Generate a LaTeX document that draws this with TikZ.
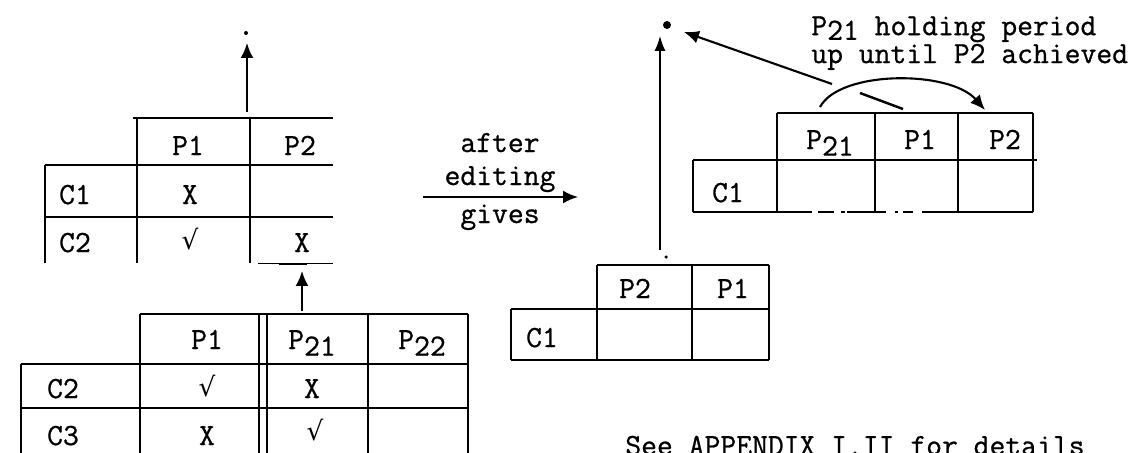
\documentclass[tikz,border=0pt]{standalone}
\usepackage{fontspec}
\usepackage{tikz}
\usetikzlibrary{arrows.meta}
\newfontfamily\typer{Latin Modern Mono}[FakeBold=0.8]
\newfontfamily\symfont{DejaVu Sans}
\newcommand{\tsub}[1]{\raisebox{-0.5ex}{#1}}
\newcommand{\tick}{{\symfont\fontsize{15}{16}\selectfont √}}

\begin{document}
\begin{tikzpicture}[x=0.02cm,y=-0.02cm,
  font=\typer\fontsize{17.5}{20}\selectfont,
  grid/.style={line width=1.6pt},
  arr/.style={-{Latex[length=3mm,width=2.6mm]},line width=1.2pt},
  thinarr/.style={-{Latex[length=3mm,width=2.2mm]},line width=0.8pt},
  cell/.style={inner sep=0pt,anchor=base},
  blob/.style={circle,fill,inner sep=0pt,minimum size=#1}
]
\useasboundingbox (0,0) rectangle (1137,453);

% schedule before editing, top left
\draw[grid] (133,118) -- (333,118);
\draw[grid] (45,165) -- (333,165);
\draw[grid] (45,217) -- (333,217);
\draw[grid] (45,165) -- (45,263);
\draw[grid] (137,118) -- (137,263);
\draw[grid] (250,118) -- (250,263);
\draw (258,263) -- (333,263);
\draw[grid] (279,264) -- (307,264);
\node[cell] (aP1) at (188,155) {P1};
\node[cell] (aP2) at (300,155) {P2};
\node[cell] (aC1) at (75,204) {C1};
\node[cell] (aX1) at (190,204) {X};
\node[cell] (aC2) at (75,252) {C2};
\node[cell] (aT2) at (190,249) {\tick};
\node[cell] (aX2) at (302,252) {X};

% split periods, bottom left
\draw[grid] (140,314) -- (468,314);
\draw[grid] (21,364) -- (468,364);
\draw[grid] (21,408) -- (468,408);
\foreach \x/\top in {21/364,140/314,259/314,267/314,368/314,468/314}
  \draw[grid] (\x,\top) -- (\x,460);
\node[cell] (bP1) at (207,349) {P1};
\node[cell] (bP21) at (312,349) {P\tsub{21}};
\node[cell] (bP22) at (422,349) {P\tsub{22}};
\node[cell] (bC2) at (63,398) {C2};
\node[cell] (bT2) at (207,396) {\tick};
\node[cell] (bX2) at (312,398) {X};
\node[cell] (bC3) at (63,445) {C3};
\node[cell] (bX3) at (207,445) {X};
\node[cell] (bT3) at (315,440) {\tick};

% up arrows between the left tables
\coordinate (aTop) at (247,112);
\coordinate (aUp) at (247,43);
\node[blob=0.08cm] (aMark) at (246,33) {};
\draw[arr] (aTop) -- (aUp);
\coordinate (bTop) at (302,311);
\coordinate (aBot) at (302,271);
\draw[arr] (bTop) -- (aBot);

% editing step
\coordinate (edFrom) at (423,197);
\coordinate (edTo) at (578,197);
\draw[arr] (edFrom) -- (edTo);
\node[cell] (after) at (500,152) {after};
\node[cell] (editing) at (500,185) {editing};
\node[cell] (gives) at (500,223) {gives};

% edited order, bottom middle
\draw[grid] (597,265) -- (769,265);
\draw[grid] (511,309) -- (769,309);
\draw[grid] (511,360) -- (769,360);
\foreach \x/\top in {511/309,597/265,692/265,769/265}
  \draw[grid] (\x,\top) -- (\x,360);
\node[cell] (dP2) at (635,298) {P2};
\node[cell] (dP1) at (733,298) {P1};
\node[cell] (dC1) at (542,347) {C1};
\node[blob=0.07cm] (dMark) at (666,257) {};

% vertical time axis
\coordinate (vFoot) at (660,250);
\coordinate (vTip) at (660,36);
\draw[thinarr] (vFoot) -- (vTip);
\node[blob=0.16cm] (vDot) at (667,25) {};

% holding period, top right
\draw[grid] (777,113) -- (1033,113);
\draw[grid] (693,160) -- (1037,160);
\foreach \x/\top in {693/160,777/113,875/113,958/113,1033/113}
  \draw[grid] (\x,\top) -- (\x,212);
\draw[grid] (693,212) -- (812,212);
\draw[grid,dash pattern=on 9pt off 4pt] (818,212) -- (845,212);
\draw[grid] (847,212) -- (886,212);
\draw[grid] (895,212) -- (898,212);
\draw[grid] (903,212) -- (913,212);
\draw[grid] (922,212) -- (1033,212);
\node[cell] (cP21) at (830,149) {P\tsub{21}};
\node[cell] (cP1) at (920,149) {P1};
\node[cell] (cP2) at (1005,149) {P2};
\node[cell] (cC1) at (728,202) {C1};

\coordinate (cFrom) at (820,107);
\coordinate (cTo) at (985,110);
\draw[arr] (cFrom) .. controls (840,70) and (950,70) .. (cTo);
\draw[line width=1.4pt] (860,93) -- (903,109);
\coordinate (hold) at (832,84);
\coordinate (holdTip) at (684,32);
\draw[arr] (hold) -- (holdTip);
\node[cell,anchor=north west,align=left,font=\typer\fontsize{17.5}{12.5}\selectfont]
  (holdText) at (811,16) {P\raisebox{-0.35ex}{21} holding period\\up until P2 achieved};

\node[cell,anchor=base west] (note) at (625,455) {See APPENDIX I.II for details};
\end{tikzpicture}
\end{document}
